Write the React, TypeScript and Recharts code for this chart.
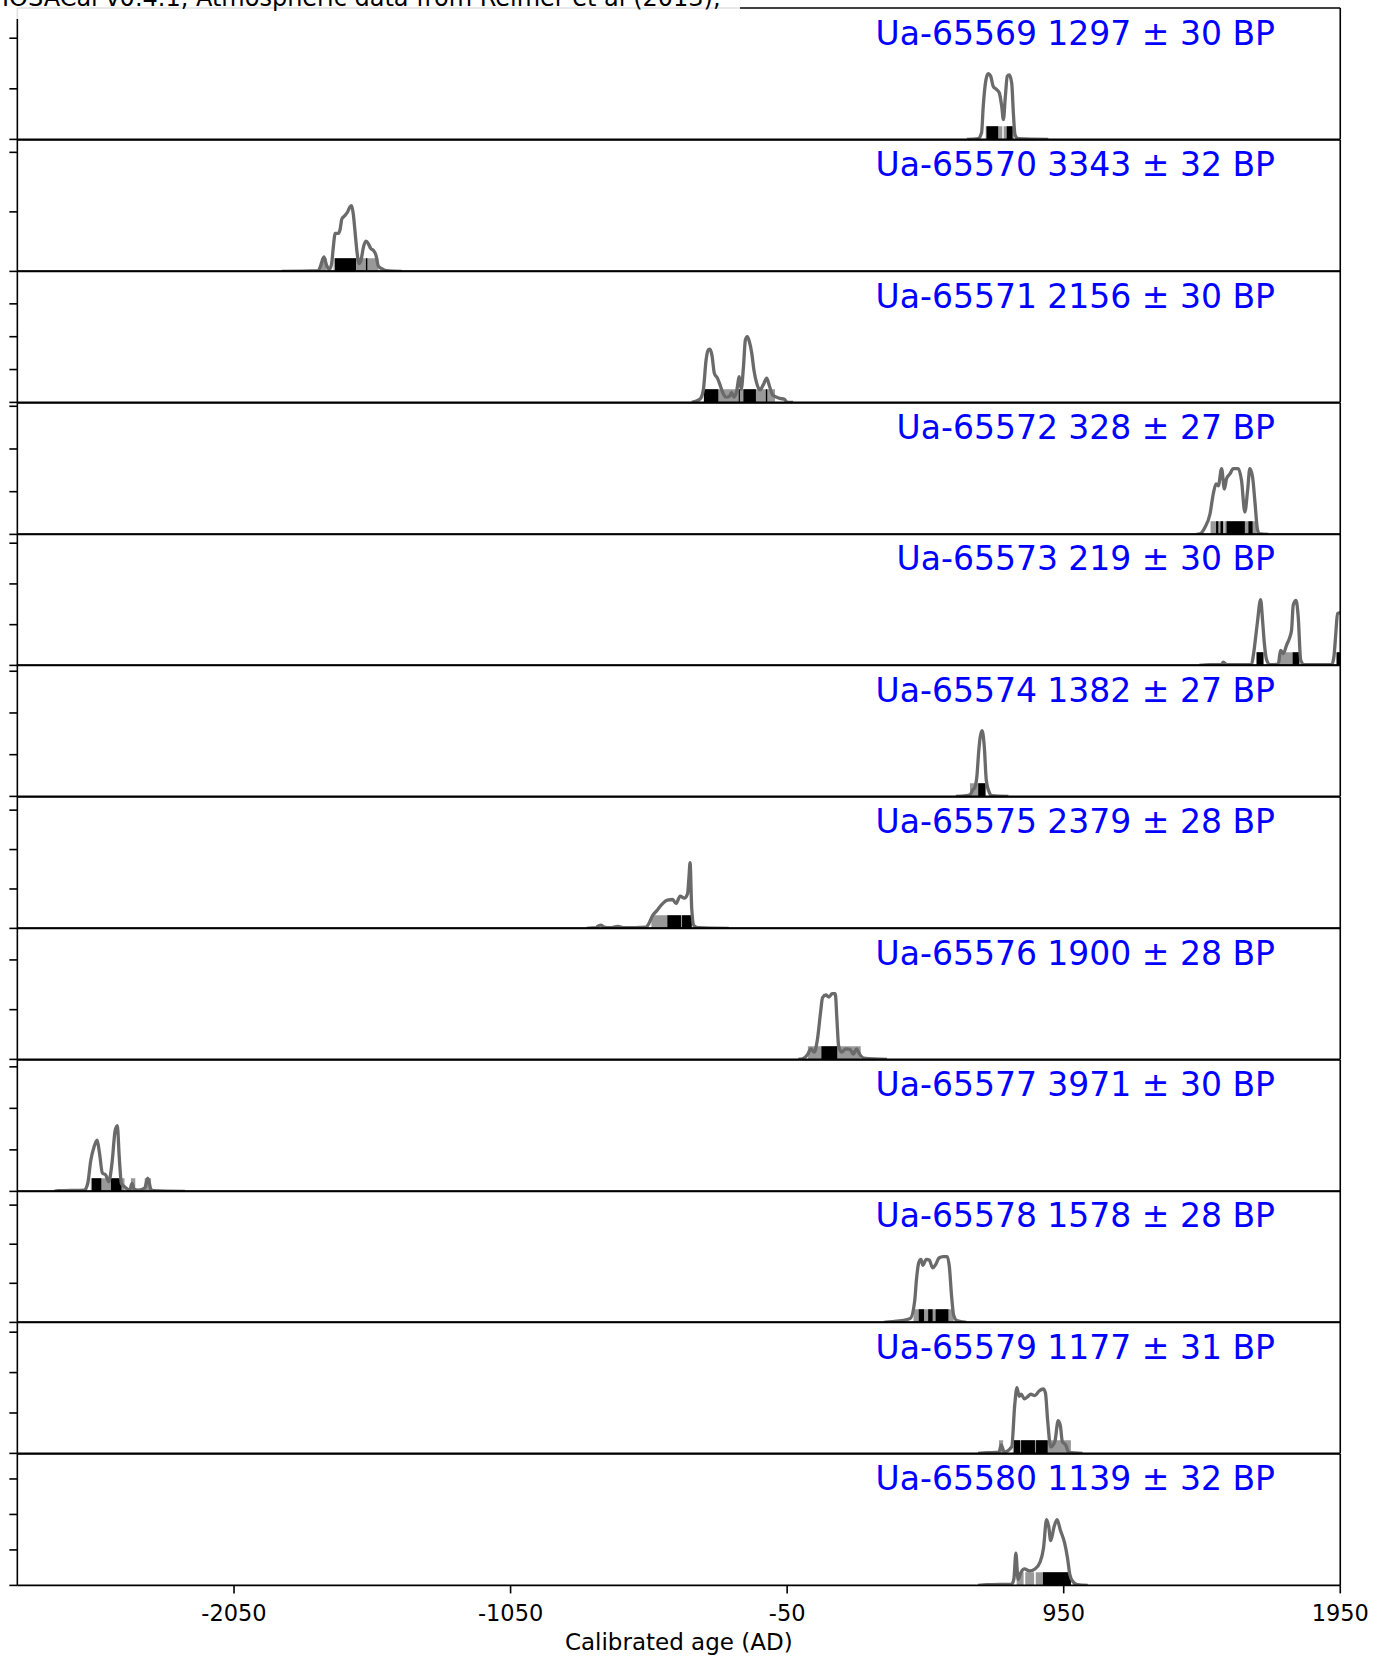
import React from 'react';
import { ComposedChart, Line, XAxis, YAxis, ReferenceArea } from 'recharts';

const X_MIN = -2833.5;
const X_MAX = 1950;
const xTicks = [-2050, -1050, -50, 950, 1950];

const labels = [
  'Ua-65569 1297 ± 30 BP',
  'Ua-65570 3343 ± 32 BP',
  'Ua-65571 2156 ± 30 BP',
  'Ua-65572 328 ± 27 BP',
  'Ua-65573 219 ± 30 BP',
  'Ua-65574 1382 ± 27 BP',
  'Ua-65575 2379 ± 28 BP',
  'Ua-65576 1900 ± 28 BP',
  'Ua-65577 3971 ± 30 BP',
  'Ua-65578 1578 ± 28 BP',
  'Ua-65579 1177 ± 31 BP',
  'Ua-65580 1139 ± 32 BP',
];

// spacing of the (unlabelled) y ticks, relative units (panel range 0..2, peak = 1)
const yTickSteps = [0.77, 0.906, 0.5, 0.65, 0.62, 0.635, 0.6, 0.757, 0.632, 0.595, 0.615, 0.54];

type P = [number, number];

const curve65569: P[] = [[600,0],[640,0.01],[653,0.1],[659,0.5],[669,0.91],[677,1.0],[686,0.96],[695,0.81],[707,0.76],[717,0.71],[726,0.5],[732,0.3],[739,0.65],[746,0.96],[753,0.98],[762,0.86],[768,0.4],[774,0.07],[785,0.01],[894,0]];
const hpd95_65569: P[] = [[668,728],[733,770]];
const hpd68_65569: P[] = [[671,713],[744,765]];

const curve65570: P[] = [[-1878,0],[-1745,0.01],[-1739,0.06],[-1725,0.22],[-1715,0.09],[-1705,0.03],[-1697,0.12],[-1691,0.37],[-1684,0.58],[-1673,0.58],[-1667,0.63],[-1660,0.8],[-1649,0.85],[-1640,0.9],[-1631,0.98],[-1625,1.0],[-1619,0.88],[-1613,0.63],[-1606,0.32],[-1598,0.12],[-1591,0.17],[-1582,0.37],[-1573,0.46],[-1564,0.42],[-1556,0.35],[-1546,0.32],[-1537,0.25],[-1528,0.08],[-1516,0.04],[-1498,0.01],[-1444,0]];
const hpd95_65570: P[] = [[-1735,-1715],[-1690,-1528]];
const hpd68_65570: P[] = [[-1685,-1609],[-1573,-1568]];

const curve65571: P[] = [[-395,0],[-365,0.05],[-353,0.19],[-343,0.65],[-335,0.8],[-329,0.81],[-322,0.72],[-313,0.44],[-302,0.37],[-293,0.27],[-283,0.15],[-271,0.08],[-259,0.09],[-251,0.15],[-242,0.08],[-233,0.16],[-223,0.39],[-216,0.2],[-208,0.54],[-201,0.95],[-194,1.0],[-187,0.93],[-178,0.75],[-170,0.49],[-160,0.29],[-148,0.19],[-136,0.27],[-124,0.37],[-114,0.25],[-102,0.11],[-88,0.08],[-76,0.06],[-61,0.05],[-49,0],[-28,0]];
const hpd95_65571: P[] = [[-351,-94]];
const hpd68_65571: P[] = [[-351,-299],[-225,-221],[-208,-163],[-127,-122]];

const curve65572: P[] = [[1430,0],[1443,0.01],[1461,0.11],[1479,0.31],[1491,0.62],[1501,0.77],[1509,0.74],[1521,1.0],[1531,0.69],[1539,0.85],[1551,0.92],[1563,1.0],[1581,1.0],[1593,0.82],[1605,0.34],[1615,0.67],[1623,1.0],[1633,0.87],[1642,0.47],[1650,0.09],[1657,0.01],[1690,0]];
const hpd95_65572: P[] = [[1481,1527],[1531,1648]];
const hpd68_65572: P[] = [[1501,1509],[1517,1527],[1539,1605],[1618,1633]];

const curve65573: P[] = [[1440,0],[1479,0.01],[1520,0.01],[1527,0.05],[1539,0.01],[1629,0.01],[1636,0.16],[1650,0.64],[1662,1.0],[1669,0.69],[1675,0.36],[1684,0.08],[1696,0.01],[1726,0.02],[1734,0.23],[1744,0.18],[1756,0.31],[1766,0.41],[1774,0.54],[1780,0.92],[1790,0.99],[1798,0.74],[1807,0.08],[1819,0.01],[1919,0.01],[1927,0.13],[1934,0.49],[1940,0.79],[1950,0.8]];
const hpd95_65573: P[] = [[1646,1673],[1732,1802],[1936,1950]];
const hpd68_65573: P[] = [[1648,1672],[1778,1802],[1937,1950]];

const curve65574: P[] = [[560,0],[598,0.01],[613,0.03],[621,0.1],[628,0.13],[636,0.3],[643,0.7],[648,0.9],[655,1.0],[663,0.75],[670,0.25],[682,0.05],[690,0.01],[750,0]];
const hpd95_65574: P[] = [[611,668]];
const hpd68_65574: P[] = [[641,667]];

const curve65575: P[] = [[-775,0],[-740,0.01],[-735,0.03],[-724,0.05],[-712,0.02],[-690,0.01],[-662,0.03],[-640,0.01],[-560,0.02],[-548,0.09],[-536,0.2],[-521,0.27],[-502,0.37],[-483,0.43],[-464,0.44],[-452,0.38],[-437,0.49],[-422,0.46],[-410,0.53],[-405,0.78],[-401,1.0],[-395,0.3],[-387,0.04],[-370,0.01],[-261,0]];
const hpd95_65575: P[] = [[-541,-395]];
const hpd68_65575: P[] = [[-483,-434],[-430,-395]];

const curve65576: P[] = [[-10,0],[6,0.01],[25,0.08],[36,0.16],[48,0.11],[59,0.29],[71,0.72],[78,0.94],[90,0.98],[101,0.95],[113,1.0],[124,1.0],[130,0.61],[136,0.21],[147,0.11],[162,0.16],[178,0.15],[189,0.08],[201,0.16],[212,0.08],[227,0.02],[311,0]];
const hpd95_65576: P[] = [[25,216]];
const hpd68_65576: P[] = [[74,131]];

const curve65577: P[] = [[-2700,0],[-2686,0.01],[-2591,0.02],[-2579,0.12],[-2568,0.47],[-2556,0.68],[-2545,0.78],[-2537,0.6],[-2526,0.28],[-2514,0.25],[-2503,0.15],[-2491,0.44],[-2480,0.92],[-2472,1.0],[-2465,0.52],[-2457,0.12],[-2446,0.07],[-2427,0.02],[-2419,0.12],[-2411,0.03],[-2396,0.02],[-2373,0.05],[-2362,0.2],[-2350,0.03],[-2339,0.01],[-2228,0]];
const hpd95_65577: P[] = [[-2568,-2446],[-2423,-2407],[-2373,-2350]];
const hpd68_65577: P[] = [[-2564,-2530],[-2495,-2457]];

const curve65578: P[] = [[300,0],[330,0.01],[395,0.06],[411,0.32],[418,0.67],[426,0.91],[434,0.96],[441,0.87],[453,0.96],[464,0.95],[476,0.83],[487,0.88],[499,0.98],[514,1.0],[529,1.0],[537,0.83],[544,0.43],[552,0.11],[563,0.03],[598,0]];
const hpd95_65578: P[] = [[407,552]];
const hpd68_65578: P[] = [[426,445],[460,476],[487,533]];

const curve65579: P[] = [[640,0],[674,0.01],[716,0.02],[724,0.13],[735,0.02],[762,0.1],[773,0.74],[781,1.0],[789,0.87],[796,0.9],[808,0.83],[819,0.86],[831,0.9],[846,0.88],[861,0.95],[876,0.98],[884,0.92],[892,0.5],[903,0.1],[918,0.18],[930,0.5],[938,0.42],[945,0.18],[957,0.13],[968,0.02],[1018,0]];
const hpd95_65579: P[] = [[716,731],[766,976]];
const hpd68_65579: P[] = [[770,792],[796,846],[850,892]];

const curve65580: P[] = [[640,0],[674,0.01],[762,0.02],[770,0.1],[777,0.49],[785,0.09],[796,0.2],[808,0.25],[827,0.22],[846,0.25],[865,0.36],[877,0.57],[888,1.0],[896,0.89],[903,0.68],[915,0.89],[926,1.0],[938,0.84],[953,0.65],[964,0.41],[972,0.17],[983,0.06],[1000,0.01],[1037,0]];
const hpd95_65580: P[] = [[780,805],[811,843],[849,976]];
const hpd68_65580: P[] = [[875,976]];

const curves = [curve65569, curve65570, curve65571, curve65572, curve65573, curve65574, curve65575, curve65576, curve65577, curve65578, curve65579, curve65580];
const hpd95s = [hpd95_65569, hpd95_65570, hpd95_65571, hpd95_65572, hpd95_65573, hpd95_65574, hpd95_65575, hpd95_65576, hpd95_65577, hpd95_65578, hpd95_65579, hpd95_65580];
const hpd68s = [hpd68_65569, hpd68_65570, hpd68_65571, hpd68_65572, hpd68_65573, hpd68_65574, hpd68_65575, hpd68_65576, hpd68_65577, hpd68_65578, hpd68_65579, hpd68_65580];

const W = 1374;
const PLOT_LEFT = 17.3;
const PLOT_RIGHT = 1340.3;
const TOP0 = 8.3;
const PANEL_H = 131.4;
const BAR_H = 0.2;
const FONT = 'DejaVu Sans';

const axisStroke = { stroke: '#000', strokeWidth: 1.6 };

function Panel({ i }: { i: number }) {
  const last = i === labels.length - 1;
  const mt = 3;
  const topAxisH = 1;
  const xAxisH = last ? 71 : 2;
  const height = mt + topAxisH + PANEL_H + xAxisH;
  const data = curves[i].map(([x, y]) => ({ x, y }));
  const step = yTickSteps[i];
  const ticks: number[] = [];
  for (let k = 0; k * step < 1.99; k++) ticks.push(+(k * step).toFixed(4));
  return (
    <div style={{ position: 'absolute', left: 0, top: TOP0 + i * PANEL_H - mt - topAxisH }}>
      <ComposedChart width={W} height={height} data={data} margin={{ top: mt, right: 0, bottom: 0, left: 0 }}>
        <XAxis
          dataKey="x"
          type="number"
          domain={[X_MIN, X_MAX]}
          allowDataOverflow
          height={xAxisH}
          ticks={last ? xTicks : undefined}
          interval={0}
          tick={last ? { fontSize: 22.5, fill: '#000', fontFamily: FONT } : false}
          tickLine={last ? axisStroke : false}
          tickSize={8}
          tickMargin={12}
          axisLine={axisStroke}
        />
        <XAxis
          xAxisId="top"
          orientation="top"
          dataKey="x"
          type="number"
          domain={[X_MIN, X_MAX]}
          allowDataOverflow
          height={topAxisH}
          tick={false}
          tickLine={false}
          axisLine={axisStroke}
        />
        <YAxis
          type="number"
          domain={[0, 2]}
          allowDataOverflow
          ticks={ticks}
          interval={0}
          width={PLOT_LEFT}
          tickSize={8}
          tickFormatter={() => ''}
          tickLine={axisStroke}
          axisLine={axisStroke}
        />
        <YAxis
          yAxisId="r"
          orientation="right"
          type="number"
          domain={[0, 2]}
          width={W - PLOT_RIGHT}
          tick={false}
          tickLine={false}
          axisLine={axisStroke}
        />
        {hpd95s[i].map(([a, b], k) => (
          <ReferenceArea key={'g' + k} x1={a} x2={b} y1={0} y2={BAR_H} fill="#999999" fillOpacity={1} stroke="none" />
        ))}
        {hpd68s[i].map(([a, b], k) => (
          <ReferenceArea key={'k' + k} x1={a} x2={b} y1={0} y2={BAR_H} fill="#000000" fillOpacity={1} stroke="none" />
        ))}
        <Line
          dataKey="y"
          type="monotone"
          stroke="#6a6a6a"
          strokeWidth={3.3}
          dot={false}
          activeDot={false}
          isAnimationActive={false}
        />
      </ComposedChart>
    </div>
  );
}

export default function App() {
  return (
    <div style={{ position: 'absolute', left: 0, top: 0, width: W, height: 1656, background: '#fff', overflow: 'hidden', fontFamily: FONT }}>
      {labels.map((_, i) => (
        <Panel key={i} i={i} />
      ))}
      {labels.map((t, i) => (
        <div
          key={'l' + i}
          style={{ position: 'absolute', right: W - 1275, top: TOP0 + i * PANEL_H + 8.5, fontSize: 33, lineHeight: 1, color: '#0000ff', whiteSpace: 'nowrap' }}
        >
          {t}
        </div>
      ))}
      <div style={{ position: 'absolute', left: 0, top: -20, width: 740, height: 39.3, background: 'rgba(255,255,255,0.88)' }} />
      <div style={{ position: 'absolute', left: 2, top: 6.5 - 0.846 * 24, fontSize: 24, lineHeight: 1, color: '#000', whiteSpace: 'nowrap' }}>
        IOSACal v0.4.1, Atmospheric data from Reimer et al (2013);
      </div>
      <div style={{ position: 'absolute', left: 0, width: 2 * 678.8, top: 1650 - 0.846 * 23, fontSize: 23, lineHeight: 1, color: '#000', textAlign: 'center', whiteSpace: 'nowrap' }}>
        Calibrated age (AD)
      </div>
    </div>
  );
}
